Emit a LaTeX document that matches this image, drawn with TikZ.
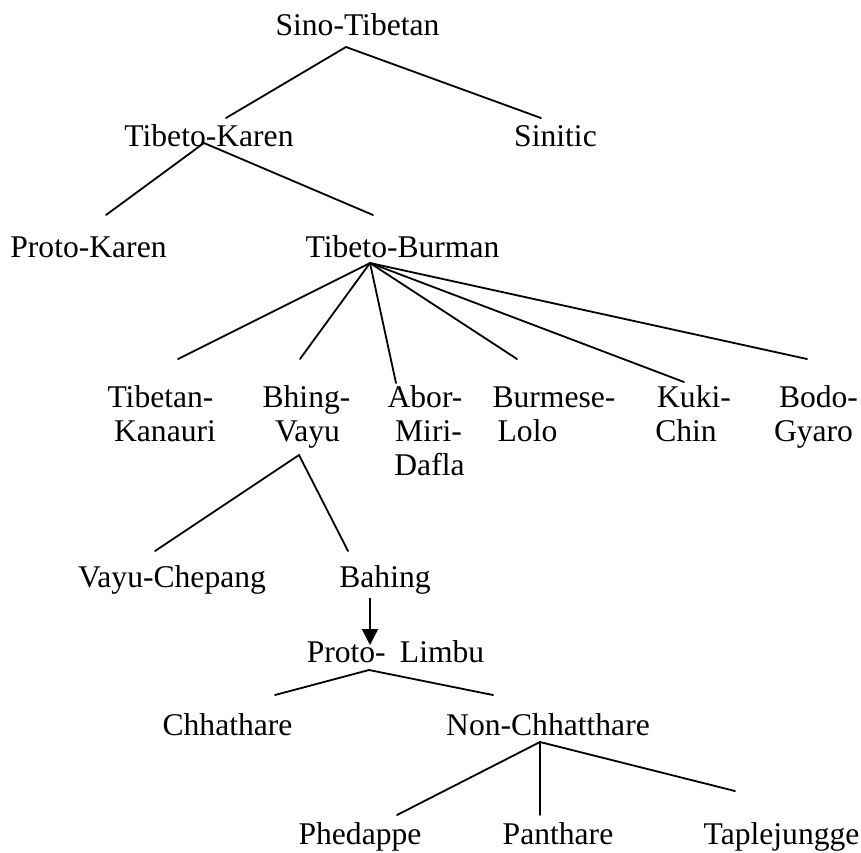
\documentclass[tikz,border=0pt]{standalone}
\usepackage{fontspec}
\setmainfont{Liberation Serif}
\usetikzlibrary{arrows.meta}
\begin{document}
\begin{tikzpicture}[x=1pt,y=-1pt,
  lang/.style={inner sep=0pt,anchor=base,font=\fontsize{31.6}{36}\selectfont},
  branch/.style={line width=1.8pt,line cap=round},
  descent/.style={line width=1.8pt,-{Triangle[length=16pt,width=16pt]}}]
\useasboundingbox (0,0) rectangle (861,852);

% language names
\node[lang] (st)  at (357.5,35)  {Sino-Tibetan};
\node[lang] (tk)  at (209,146)   {Tibeto-Karen};
\node[lang] (sn)  at (555.5,146) {Sinitic};
\node[lang] (pk)  at (88.5,257)  {Proto-Karen};
\node[lang] (tb)  at (402.5,257) {Tibeto-Burman};

\node[lang] (tka) at (160.5,407) {Tibetan-};
\node[lang] (tkb) at (165,441)   {Kanauri};
\node[lang] (bva) at (306.5,407) {Bhing-};
\node[lang] (bvb) at (307.5,441) {Vayu};
\node[lang] (ama) at (425,407)   {Abor-};
\node[lang] (amb) at (428.5,441) {Miri-};
\node[lang] (amc) at (429.5,475) {Dafla};
\node[lang] (bla) at (554,407)   {Burmese-};
\node[lang] (blb) at (527.5,441) {Lolo};
\node[lang] (kca) at (694,407)   {Kuki-};
\node[lang] (kcb) at (686,441)   {Chin};
\node[lang] (bga) at (818.5,407) {Bodo-};
\node[lang] (bgb) at (813.5,441) {Gyaro};

\node[lang] (vc)  at (172,587)   {Vayu-Chepang};
\node[lang] (bh)  at (385,587)   {Bahing};
\node[lang] (pl)  at (395.5,662) {Proto-\hspace{0.45em}Limbu};
\node[lang] (ch)  at (227.5,735) {Chhathare};
\node[lang] (nc)  at (548,735)   {Non-Chhatthare};
\node[lang] (ph)  at (360,844)   {Phedappe};
\node[lang] (pn)  at (558,844)   {Panthare};
\node[lang] (tj)  at (781.5,844) {Taplejungge};

% branching points and branch ends
\coordinate (st-j) at (346,47);
\coordinate (tk-e) at (226,118);
\coordinate (sn-e) at (541,118);

\coordinate (tk-j) at (204,143);
\coordinate (pk-e) at (106,215);
\coordinate (tb-e) at (373,215);

\coordinate (tb-j)  at (370,263);
\coordinate (tka-e) at (178,359);
\coordinate (bva-e) at (300,359);
\coordinate (ama-e) at (396,383);
\coordinate (bla-e) at (517,359);
\coordinate (kca-e) at (684,382);
\coordinate (bga-e) at (807,359);

\coordinate (bv-j) at (299,455);
\coordinate (vc-e) at (155,551);
\coordinate (bh-e) at (348,551);

\coordinate (bh-s) at (370,598);
\coordinate (pl-t) at (370,645);

\coordinate (pl-j) at (369,670);
\coordinate (ch-e) at (275,695);
\coordinate (nc-e) at (493,695);

\coordinate (nc-j) at (540,742);
\coordinate (ph-e) at (397,815);
\coordinate (pn-e) at (540,815);
\coordinate (tj-e) at (735,791);

% branches
\draw[branch] (tk-e) -- (st-j) -- (sn-e);
\draw[branch] (pk-e) -- (tk-j) -- (tb-e);
\foreach \e in {tka-e,bva-e,ama-e,bla-e,kca-e,bga-e}
  \draw[branch] (tb-j) -- (\e);
\draw[branch] (vc-e) -- (bv-j) -- (bh-e);
\draw[descent] (bh-s) -- (pl-t);
\draw[branch] (ch-e) -- (pl-j) -- (nc-e);
\foreach \e in {ph-e,pn-e,tj-e}
  \draw[branch] (nc-j) -- (\e);
\end{tikzpicture}
\end{document}
